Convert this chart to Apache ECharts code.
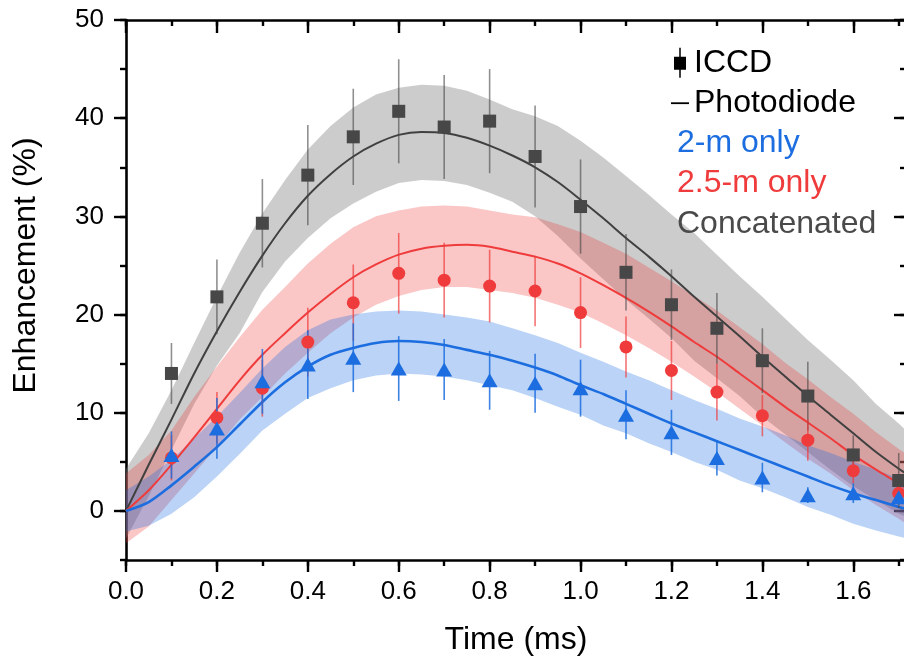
<!DOCTYPE html>
<html>
<head>
<meta charset="utf-8">
<title>Enhancement vs time</title>
<script src="https://cdn.jsdelivr.net/npm/echarts@6/dist/echarts.min.js"></script>
<style>
  html, body { margin: 0; padding: 0; background: #ffffff; }
  #chart { width: 904px; height: 662px; }
</style>
</head>
<body>
<div id="chart"></div>
<script>
// ---- Photodiode traces (ms, %) ----
const time = [0, 0.05, 0.1, 0.15, 0.2, 0.25, 0.3, 0.35, 0.4, 0.45, 0.5, 0.55, 0.6, 0.65, 0.7, 0.75, 0.8, 0.85,
  0.9, 0.95, 1.0, 1.05, 1.1, 1.15, 1.2, 1.25, 1.3, 1.35, 1.4, 1.45, 1.5, 1.55, 1.6, 1.65, 1.7, 1.716];

const concatLine = [0.0, 4.7, 9.3, 14.0, 18.3, 22.3, 26.0, 29.3, 32.1, 34.3, 36.1, 37.4, 38.3, 38.6, 38.5, 38.0, 37.2, 36.2,
  35.0, 33.5, 31.7, 29.8, 27.8, 25.9, 23.9, 21.8, 19.8, 17.8, 15.7, 13.7, 11.7, 9.8, 7.9, 6.0, 4.3, 3.8];
const concatUpper = [4.3, 7.9, 12.3, 17.1, 21.8, 26.3, 30.3, 33.7, 36.8, 39.2, 41.1, 42.4, 43.1, 43.4, 43.3, 42.8, 41.9, 40.9,
  40.2, 39.2, 37.7, 36.0, 34.1, 32.2, 30.2, 28.3, 26.1, 23.9, 21.8, 19.6, 17.4, 15.4, 13.3, 10.9, 8.9, 8.2];
const concatLower = [-2.8, 1.5, 6.2, 10.9, 14.8, 18.1, 22.3, 25.4, 27.8, 29.8, 31.3, 32.5, 33.4, 33.7, 33.6, 33.2, 32.4, 31.5,
  30.0, 28.0, 25.7, 23.6, 21.5, 19.6, 17.6, 15.3, 13.5, 11.7, 9.6, 7.8, 6.0, 4.2, 2.5, 1.1, -0.3, -0.6];

const longLine = [0.0, 2.1, 4.7, 7.5, 10.4, 13.3, 15.9, 18.1, 20.2, 22.1, 23.8, 25.1, 26.1, 26.7, 27.0, 27.1, 26.9, 26.4,
  25.9, 25.2, 24.2, 23.0, 21.7, 20.3, 18.8, 17.2, 15.7, 14.0, 12.3, 10.6, 9.0, 7.4, 5.7, 4.2, 2.8, 2.3];
const longUpper = [3.8, 5.7, 8.2, 11.6, 14.7, 17.7, 20.5, 22.8, 25.2, 27.2, 28.9, 30.0, 30.6, 31.0, 31.1, 31.0, 30.6, 30.2,
  29.9, 29.2, 28.4, 27.3, 26.2, 24.8, 23.4, 21.9, 20.4, 18.7, 17.0, 15.1, 13.4, 11.6, 9.9, 8.0, 6.3, 5.8];
const longLower = [-3.3, -1.6, 1.1, 3.8, 6.5, 9.3, 11.6, 14.0, 16.1, 18.1, 19.7, 21.0, 21.9, 22.5, 22.8, 22.8, 22.5, 22.2,
  21.7, 21.0, 20.2, 19.1, 17.9, 16.6, 15.2, 13.7, 12.1, 10.4, 8.7, 7.0, 5.3, 3.8, 2.1, 0.6, -0.8, -1.3];

const shortLine = [0.0, 0.9, 2.6, 4.5, 6.5, 8.8, 11.1, 13.1, 14.7, 15.9, 16.6, 17.1, 17.3, 17.2, 16.9, 16.4, 15.9, 15.3,
  14.6, 13.8, 12.8, 11.9, 10.9, 9.9, 8.9, 8.0, 7.1, 6.2, 5.3, 4.4, 3.5, 2.6, 1.8, 1.1, 0.4, 0.2];
const shortUpper = [2.1, 3.5, 5.2, 7.4, 9.6, 12.0, 14.5, 16.7, 18.4, 19.5, 20.0, 20.3, 20.4, 20.3, 20.0, 19.7, 19.3, 18.6,
  17.9, 17.1, 16.1, 15.2, 14.2, 13.3, 12.3, 11.3, 10.4, 9.4, 8.6, 7.7, 6.7, 5.9, 5.0, 4.2, 3.3, 3.1];
const shortLower = [-2.1, -1.5, -0.3, 1.4, 3.5, 5.8, 8.2, 9.9, 11.5, 12.5, 13.3, 13.8, 14.0, 13.9, 13.7, 13.3, 12.8, 12.3,
  11.5, 10.6, 9.8, 8.7, 7.9, 6.9, 6.0, 5.0, 4.2, 3.1, 2.3, 1.4, 0.4, -0.4, -1.3, -2.0, -2.6, -2.8];

// ---- ICCD measurements (ms, %, ± error) ----
const sampleTime = [0.1, 0.2, 0.3, 0.4, 0.5, 0.6, 0.7, 0.8, 0.9, 1.0, 1.1, 1.2, 1.3, 1.4, 1.5, 1.6, 1.7];
const concatPts = [14.0, 21.8, 29.3, 34.2, 38.1, 40.7, 39.1, 39.7, 36.1, 31.0, 24.3, 21.0, 18.6, 15.3, 11.7, 5.7, 3.1];
const concatErr = [3.1, 3.8, 4.5, 5.1, 4.9, 5.3, 5.3, 5.3, 5.2, 4.8, 3.9, 3.6, 3.6, 3.3, 3.5, 2.0, 2.8];
const longPts = [5.4, 9.5, 12.5, 17.2, 21.2, 24.2, 23.5, 22.9, 22.4, 20.2, 16.7, 14.3, 12.1, 9.7, 7.2, 4.1, 1.8];
const longErr = [2.3, 2.6, 2.9, 3.5, 3.9, 4.1, 3.8, 3.7, 3.6, 3.6, 3.1, 3.0, 2.9, 2.1, 2.1, 1.3, 1.0];
const shortPts = [5.7, 8.4, 13.2, 14.9, 15.6, 14.5, 14.4, 13.3, 13.0, 12.5, 9.8, 8.0, 5.4, 3.4, 1.6, 1.8, 1.4];
const shortErr = [2.4, 3.1, 3.3, 3.5, 3.5, 3.3, 3.1, 3.0, 3.0, 2.9, 2.5, 2.3, 1.8, 1.5, 0.8, 1.0, 0.8];

// ---- axis ranges ----
const X_MAX = 1.716;
const Y_MIN = -5, Y_MAX = 50;

// ---- styling ----
const FONT = '"Liberation Sans", Arial, Helvetica, sans-serif';
const C_GRAY = '#474747';
const C_RED = '#ef3b3b';
const C_BLUE = '#1c6ddf';

const zip = (xs, ys) => xs.map((x, i) => [x, ys[i]]);

// Shaded uncertainty band: one polygon, upper edge forward then lower edge back
function band(name, lower, upper, color) {
  return {
    type: 'custom', name: name, silent: true, z: 1, clip: true,
    data: time.map((t, i) => [t, lower[i], upper[i]]),
    encode: { x: 0, y: [1, 2] },
    renderItem: (params, api) => {
      if (params.dataIndexInside !== 0) return null;
      const n = params.dataInsideLength;
      const top = [], bottom = [];
      for (let i = 0; i < n; i++) {
        const x = api.value(0, i);
        top.push(api.coord([x, api.value(2, i)]));
        bottom.push(api.coord([x, api.value(1, i)]));
      }
      return {
        type: 'polygon',
        shape: { points: top.concat(bottom.reverse()) },
        style: { fill: color }
      };
    }
  };
}

function trace(name, values, color, width) {
  return {
    type: 'line', name: name, data: zip(time, values), symbol: 'none', smooth: 0.3,
    lineStyle: { color: color, width: width }, itemStyle: { color: color }, silent: true, z: 2
  };
}

function errorBars(name, values, errs, color) {
  return {
    type: 'custom', name: name, silent: true, z: 3,
    data: sampleTime.map((t, i) => [t, values[i] - errs[i], values[i] + errs[i]]),
    encode: { x: 0, y: [1, 2] },
    renderItem: (params, api) => {
      const a = api.coord([api.value(0), api.value(1)]);
      const b = api.coord([api.value(0), api.value(2)]);
      return {
        type: 'line',
        shape: { x1: a[0], y1: a[1], x2: b[0], y2: b[1] },
        style: { stroke: color, lineWidth: 1.6 }
      };
    }
  };
}

function markers(name, values, symbol, size, color) {
  return {
    type: 'scatter', name: name, data: zip(sampleTime, values),
    symbol: symbol, symbolSize: size, itemStyle: { color: color, opacity: 1 }, silent: true, z: 4
  };
}

const tickStyle = { color: '#000', width: 2.4 };
const frameLine = { show: true, onZero: false, lineStyle: { color: '#000', width: 2.6 } };
const noLine = { show: false, onZero: false };
const labelFont = { fontFamily: FONT, fontSize: 26, color: '#000' };
const titleFont = { fontFamily: FONT, fontSize: 32, color: '#000' };

const onStep = (v, step) => Math.abs(v / step - Math.round(v / step)) < 1e-6;

const option = {
  backgroundColor: '#ffffff',
  animation: false,
  grid: [
    { left: 126, top: 20, width: 780, height: 540, outerBoundsMode: 'none' },
    { left: 126, top: 20, width: 780, height: 540 * (Y_MAX - 0) / (Y_MAX - Y_MIN), outerBoundsMode: 'none' }
  ],
  xAxis: [
    { gridIndex: 0, type: 'value', position: 'bottom', min: 0, max: X_MAX, interval: 0.1,
      axisLine: frameLine, axisTick: { length: 6, lineStyle: tickStyle },
      axisLabel: { show: false }, splitLine: { show: false } },
    { gridIndex: 0, type: 'value', position: 'top', min: 0, max: X_MAX, interval: 0.1,
      axisLine: frameLine, axisTick: { inside: true, length: 6, lineStyle: tickStyle },
      axisLabel: { show: false }, splitLine: { show: false } },
    { gridIndex: 1, type: 'value', position: 'bottom', offset: 540 * (0 - Y_MIN) / (Y_MAX - Y_MIN),
      min: 0, max: X_MAX, interval: 0.2,
      axisLine: noLine, axisTick: { length: 12, lineStyle: tickStyle },
      axisLabel: Object.assign({ margin: 19, formatter: v => onStep(v, 0.2) ? v.toFixed(1) : '' }, labelFont),
      splitLine: { show: false },
      name: 'Time (ms)', nameLocation: 'middle', nameGap: 64, nameTextStyle: titleFont },
    { gridIndex: 1, type: 'value', position: 'top', min: 0, max: X_MAX, interval: 0.2,
      axisLine: noLine, axisTick: { inside: true, length: 13, lineStyle: tickStyle },
      axisLabel: { show: false }, splitLine: { show: false } }
  ],
  yAxis: [
    { gridIndex: 0, type: 'value', position: 'left', min: Y_MIN, max: Y_MAX, interval: 5,
      axisLine: frameLine, axisTick: { length: 6, lineStyle: tickStyle },
      axisLabel: { show: false }, splitLine: { show: false } },
    { gridIndex: 0, type: 'value', position: 'right', min: Y_MIN, max: Y_MAX, interval: 5,
      axisLine: frameLine, axisTick: { inside: true, length: 6, lineStyle: tickStyle },
      axisLabel: { show: false }, splitLine: { show: false } },
    { gridIndex: 1, type: 'value', position: 'left', min: 0, max: Y_MAX, interval: 10,
      axisLine: noLine, axisTick: { length: 12, lineStyle: tickStyle },
      axisLabel: Object.assign({ margin: 22 }, labelFont), splitLine: { show: false },
      name: 'Enhancement (%)', nameLocation: 'middle', nameGap: 84, nameRotate: 90, nameTextStyle: titleFont },
    { gridIndex: 1, type: 'value', position: 'right', min: 0, max: Y_MAX, interval: 10,
      axisLine: noLine, axisTick: { inside: true, length: 12, lineStyle: tickStyle },
      axisLabel: { show: false }, splitLine: { show: false } }
  ],
  legend: [
    {
      orient: 'vertical', left: 666, top: 41.7, itemWidth: 18, itemHeight: 30, itemGap: 8.5,
      selectedMode: false, textStyle: { fontFamily: FONT, fontSize: 32, color: '#000' },
      data: [
        { name: 'ICCD', icon: 'path://M6.25,0H7.75V9H13V22H7.75V30H6.25V22H1V9H6.25Z',
          itemStyle: { color: '#000', borderWidth: 0 } },
        { name: 'Photodiode', icon: 'path://M0,0H16V1.6H0Z', itemStyle: { color: '#000', borderWidth: 0 } }
      ]
    },
    {
      orient: 'vertical', left: 666, top: 122, itemWidth: 1, itemHeight: 32, itemGap: 8.5,
      selectedMode: false, textStyle: { fontFamily: FONT, fontSize: 32 },
      data: [
        { name: '2-m only', icon: 'none', textStyle: { color: C_BLUE } },
        { name: '2.5-m only', icon: 'none', textStyle: { color: C_RED } },
        { name: 'Concatenated', icon: 'none', textStyle: { color: '#4a4a4a' } }
      ]
    }
  ],
  series: [
    band('Concatenated', concatLower, concatUpper, 'rgba(128,128,128,0.4)'),
    band('2.5-m band', longLower, longUpper, 'rgba(238,51,51,0.28)'),
    band('2-m band', shortLower, shortUpper, 'rgba(27,110,224,0.3)'),
    trace('Photodiode', concatLine, '#404040', 2),
    trace('2.5-m only', longLine, C_RED, 2),
    trace('2-m only', shortLine, C_BLUE, 2.6),
    errorBars('ICCD error', concatPts, concatErr, 'rgba(70,70,70,0.6)'),
    errorBars('2.5-m error', longPts, longErr, 'rgba(239,59,59,0.7)'),
    errorBars('2-m error', shortPts, shortErr, 'rgba(28,109,223,0.85)'),
    markers('ICCD', concatPts, 'rect', 13, C_GRAY),
    markers('2.5-m ICCD', longPts, 'circle', 13, C_RED),
    markers('2-m ICCD', shortPts, 'triangle', [16, 14], C_BLUE)
  ]
};

const chart = echarts.init(document.getElementById('chart'), null, { renderer: 'canvas' });
chart.setOption(option);
</script>
</body>
</html>
